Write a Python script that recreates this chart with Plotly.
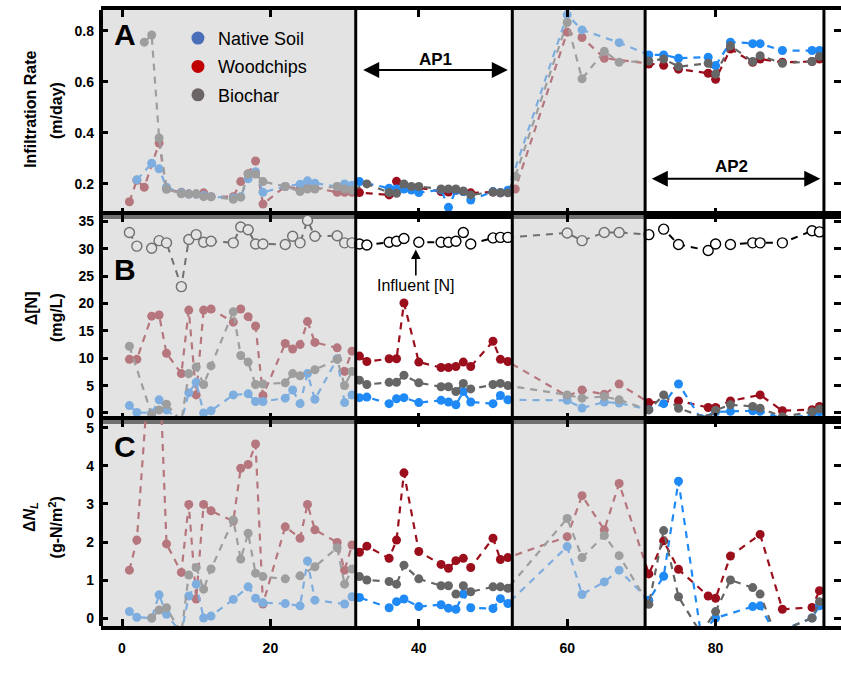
import plotly.graph_objects as go

# ---------------- data ----------------
# Panel A: infiltration rate (m/day)
a_native_day = [2, 4, 5, 6, 8, 9, 10, 11, 12, 15, 16, 17, 18, 19, 22, 24, 25, 26, 29, 30, 31,
                32, 36, 37, 38, 39, 40, 43, 44, 45, 46, 47, 50, 51, 52,
                60, 62, 67, 71, 73, 75, 79, 80, 82, 85, 86, 89, 93, 94]
a_native_val = [0.216, 0.281, 0.259, 0.187, 0.165, 0.16, 0.16, 0.155, 0.15, 0.145, 0.15, 0.22, 0.248, 0.167,
                0.19, 0.199, 0.212, 0.203, 0.19, 0.2, 0.195,
                0.209, 0.183, 0.18, 0.18, 0.176, 0.166, 0.177, 0.108, 0.175, 0.17, 0.137, 0.17, 0.165, 0.175,
                0.863, 0.804, 0.754, 0.706, 0.706, 0.693, 0.697, 0.664, 0.756, 0.75, 0.75, 0.723, 0.723, 0.723]

a_wood_day = [1, 2, 3, 5, 6, 8, 9, 10, 11, 12, 15, 16, 17, 18, 19, 22, 24, 25, 26, 29, 30, 31,
              32, 36, 37, 38, 40, 43, 44, 45, 46, 47, 50, 51, 52,
              53, 60, 62, 65, 71, 73, 75, 79, 80, 82, 85, 86, 89, 93, 94]
a_wood_val = [0.13, 0.214, 0.187, 0.36, 0.18, 0.167, 0.16, 0.16, 0.165, 0.15, 0.15, 0.209, 0.24, 0.29, 0.121,
              0.19, 0.18, 0.185, 0.185, 0.167, 0.167, 0.167,
              0.166, 0.157, 0.21, 0.187, 0.185, 0.17, 0.168, 0.175, 0.17, 0.165, 0.168, 0.165, 0.17,
              0.18, 0.795, 0.774, 0.693, 0.67, 0.665, 0.65, 0.634, 0.61, 0.729, 0.677, 0.69, 0.677, 0.68, 0.69]

a_char_day = [3, 4, 5, 6, 8, 9, 10, 11, 12, 15, 16, 17, 18, 19, 22, 24, 25, 26, 29, 30, 31,
              33, 36, 37, 38, 39, 40, 43, 44, 45, 46, 47, 50, 51, 52,
              53, 60, 62, 65, 67, 71, 73, 75, 79, 80, 82, 85, 86, 89, 93, 94]
a_char_val = [0.756, 0.784, 0.38, 0.18, 0.161, 0.161, 0.161, 0.15, 0.15, 0.14, 0.148, 0.239, 0.239, 0.209,
              0.19, 0.17, 0.18, 0.18, 0.19, 0.18, 0.175,
              0.2, 0.166, 0.163, 0.2, 0.19, 0.19, 0.18, 0.18, 0.18, 0.172, 0.157, 0.168, 0.165, 0.165,
              0.23, 0.833, 0.612, 0.72, 0.677, 0.682, 0.69, 0.66, 0.673, 0.631, 0.742, 0.68, 0.703, 0.673, 0.68, 0.70]

# Panel B: change in N concentration (mg/L) and influent concentration
b_infl_day = [1, 2, 4, 5, 6, 8, 9, 10, 11, 12, 15, 16, 17, 18, 19, 22, 23, 24, 25, 26, 29, 30, 31,
              32, 33, 36, 37, 38, 40, 43, 44, 45, 46, 47, 50, 51, 52,
              60, 62, 65, 67, 71, 73, 75, 79, 80, 82, 85, 86, 89, 93, 94]
b_infl_val = [33.0, 30.5, 30.1, 31.5, 31.1, 23.1, 31.7, 32.6, 31.2, 31.4, 31.1, 34.0, 33.5, 30.9, 30.9,
              30.8, 32.3, 31.1, 35.2, 32.3, 32.4, 31.1, 31.1,
              30.9, 30.7, 31.2, 31.4, 31.9, 31.2, 31.2, 31.2, 31.4, 33.0, 30.9, 32.0, 32.1, 32.1,
              32.9, 31.5, 33.0, 33.0, 32.6, 33.6, 30.8, 29.7, 30.9, 30.8, 31.1, 31.1, 31.1, 33.3, 33.1]

b_wood_day = [1, 2, 4, 5, 6, 8, 9, 10, 11, 12, 15, 16, 17, 18, 19, 22, 23, 24, 25, 26, 29, 30, 31,
              32, 33, 36, 37, 38, 40, 43, 44, 45, 46, 47, 50, 51, 52,
              60, 62, 65, 67, 71, 75, 79, 80, 82, 86, 89, 93, 94]
b_wood_val = [9.8, 9.8, 17.7, 17.9, 10.9, 7.2, 18.8, 3.3, 18.8, 19.0, 16.6, 19.0, 17.6, 15.9, 3.2,
              12.7, 11.7, 12.5, 16.7, 12.9, 11.9, 7.6, 11.3,
              10.4, 9.4, 9.9, 9.9, 20.1, 9.3, 8.3, 8.3, 8.5, 9.3, 8.5, 13.1, 9.8, 9.4,
              3.1, 4.2, 3.4, 5.3, 1.9, 2.2, 1.0, 1.0, 2.2, 3.3, 0.4, 0.6, 1.2]

b_char_day = [1, 4, 5, 6, 8, 9, 10, 11, 12, 15, 16, 17, 18, 19, 22, 23, 24, 26, 29, 30, 31,
              32, 33, 36, 37, 38, 40, 43, 44, 45, 46, 47, 50, 51, 52,
              60, 62, 65, 67, 71, 73, 75, 79, 80, 82, 85, 86, 89, 93, 94]
b_char_val = [12.2, -0.3, 0.55, 1.6, -1.5, 7.2, 8.4, 5.2, 8.6, 18.5, 10.5, 9.3, 5.2, 5.3,
              5.5, 7.2, 6.8, 7.9, 9.8, 5.0, 7.6,
              6.0, 5.2, 5.6, 5.6, 6.9, 5.5, 4.8, 4.8, 3.9, 5.4, 4.4, 5.2, 5.4, 5.0,
              3.3, 2.7, 3.0, 2.4, 0.55, 3.3, 0.86, -1.0, 0.5, 1.5, 1.2, 0.86, -0.7, 0.2, 0.7]

b_native_day = [1, 2, 4, 5, 6, 8, 9, 10, 11, 12, 15, 17, 18, 19, 22, 23, 24, 25, 26, 29, 30, 31,
                32, 33, 36, 37, 38, 40, 43, 44, 45, 46, 47, 50, 51, 52,
                60, 62, 65, 67, 71, 73, 75, 78, 80, 82, 85, 86, 89, 93, 94]
b_native_val = [1.35, 0.1, 0.0, 2.4, 0.55, -1.5, 3.7, 5.6, 0.0, 0.4, 3.3, 3.5, 2.1, 2.1,
                2.7, 4.2, 1.7, 7.2, 2.5, 9.9, 1.9, 3.3,
                2.8, 2.9, 1.7, 2.6, 2.8, 1.9, 2.3, 2.0, 1.5, 3.9, 2.0, 1.7, 3.2, 2.4,
                2.3, 0.9, 2.0, 1.8, 0.6, 1.7, 5.3, -1.0, 0.2, 0.3, 0.4, 0.3, -1.0, -0.4, 0.2]

# Panel C: N load removed (g-N/m2)
c_wood_day = [1, 2, 4, 5, 6, 8, 9, 10, 11, 12, 15, 16, 17, 18, 19, 22, 24, 25, 26, 29, 30, 31,
              32, 33, 36, 37, 38, 40, 43, 44, 45, 46, 47, 50, 51, 52,
              60, 62, 65, 67, 71, 73, 75, 79, 80, 82, 86, 89, 93, 94]
c_wood_val = [1.26, 2.05, 7.5, 7.0, 1.95, 1.2, 2.99, 0.5, 2.99, 2.82, 2.55, 3.94, 4.04, 4.58, 0.37,
              2.4, 2.1, 2.99, 2.32, 1.99, 1.26, 1.92,
              1.73, 1.89, 1.57, 2.05, 3.82, 1.75, 1.41, 1.31, 1.51, 1.57, 1.33, 2.1, 1.54, 1.59,
              2.14, 3.22, 2.32, 3.54, 1.16, 2.03, 1.28, 0.58, 0.52, 1.63, 2.2, 0.23, 0.28, 0.72]

c_char_day = [4, 5, 6, 8, 9, 10, 11, 12, 15, 16, 17, 18, 19, 22, 24, 26, 29, 30, 31,
              32, 33, 36, 37, 38, 40, 43, 44, 45, 46, 47, 50, 51, 52,
              60, 62, 65, 67, 71, 73, 75, 78, 80, 82, 85, 86, 88, 93, 94]
c_char_val = [0.0, 0.21, 0.27, -0.4, 1.13, 1.33, 0.76, 1.29, 2.58, 1.55, 2.23, 1.18, 1.09,
              1.03, 1.11, 1.35, 1.85, 0.89, 1.29,
              1.09, 1.0, 0.96, 0.89, 1.39, 1.03, 0.85, 0.85, 0.63, 0.85, 0.69, 0.82, 0.82, 0.78,
              2.62, 1.59, 2.17, 1.64, 0.36, 2.3, 0.56, -0.4, 0.17, 1.0, 0.8, 0.63, -0.4, 0.0, 0.43]

c_native_day = [1, 2, 4, 5, 6, 8, 9, 10, 11, 12, 15, 17, 18, 19, 22, 24, 25, 26, 30, 31,
                32, 36, 37, 38, 40, 43, 44, 45, 46, 47, 50, 51, 52,
                60, 62, 65, 67, 71, 73, 75, 78, 80, 85, 86, 88, 93, 94]
c_native_val = [0.17, 0.02, 0.0, 0.61, 0.1, -0.4, 0.58, 0.89, 0.0, 0.05, 0.49, 0.82, 0.52, 0.4,
                0.38, 0.32, 1.5, 0.47, 0.37, 0.56,
                0.54, 0.27, 0.43, 0.5, 0.3, 0.35, 0.26, 0.23, 0.63, 0.27, 0.25, 0.51, 0.38,
                1.88, 0.62, 0.95, 1.26, 0.47, 1.1, 3.6, -0.4, 0.0, 0.3, 0.32, -0.4, 0.0, 0.32]

# period layout (days)
period_edges = [31.5, 52.6, 70.5, 94.6]
rest_periods = [(-10, 31.5), (52.6, 70.5)]

legend_names = ["Native Soil", "Woodchips", "Biochar"]
legend_colors = ["#4a6fb8", "#c00000", "#6b6565"]

COL_NATIVE = "#1f8af5"
COL_WOOD = "#9b0f1d"
COL_CHAR = "#666666"
SHADE = "rgba(204,204,204,0.55)"
FONT = "Liberation Sans, Arial, sans-serif"

XR = [-2.83, 96.9]
YR = {"y": [0.080, 0.882], "y2": [-1.29, 36.28], "y3": [-0.21, 5.21]}

fig = go.Figure()


def series(days, vals, color, xa, ya):
    fig.add_trace(go.Scatter(
        x=days, y=vals, mode="lines+markers", xaxis=xa, yaxis=ya,
        line=dict(color=color, width=2.2, dash="7px,6px"),
        marker=dict(color=color, size=9),
        showlegend=False, hoverinfo="skip"))


series(a_wood_day, a_wood_val, COL_WOOD, "x", "y")
series(a_native_day, a_native_val, COL_NATIVE, "x", "y")
series(a_char_day, a_char_val, COL_CHAR, "x", "y")

fig.add_trace(go.Scatter(
    x=b_infl_day, y=b_infl_val, mode="lines+markers", xaxis="x2", yaxis="y2",
    line=dict(color="black", width=2, dash="7px,6px"),
    marker=dict(symbol="circle", color="white", size=10, line=dict(color="black", width=1.4)),
    showlegend=False, hoverinfo="skip"))
series(b_wood_day, b_wood_val, COL_WOOD, "x2", "y2")
series(b_native_day, b_native_val, COL_NATIVE, "x2", "y2")
series(b_char_day, b_char_val, COL_CHAR, "x2", "y2")

series(c_wood_day, c_wood_val, COL_WOOD, "x3", "y3")
series(c_native_day, c_native_val, COL_NATIVE, "x3", "y3")
series(c_char_day, c_char_val, COL_CHAR, "x3", "y3")

# translucent wash over the rest periods (drawn under the axes)
for xa, ya in [("x", "y"), ("x2", "y2"), ("x3", "y3")]:
    for x0, x1 in rest_periods:
        lo, hi = -100, 100
        fig.add_trace(go.Scatter(
            x=[x0, x1, x1, x0, x0], y=[lo, lo, hi, hi, lo], mode="lines",
            fill="toself", fillcolor=SHADE, line=dict(width=0),
            xaxis=xa, yaxis=ya, showlegend=False, hoverinfo="skip"))

# legend entries
for name, col in zip(legend_names, legend_colors):
    fig.add_trace(go.Scatter(
        x=[None], y=[None], mode="markers", name=name, legendgroup=name,
        marker=dict(color=col, size=13), xaxis="x", yaxis="y"))

tick_common = dict(ticks="inside", ticklen=7, tickwidth=3, tickcolor="black",
                   tickfont=dict(family=FONT, size=14, color="black", weight="bold"))

xcommon = dict(range=XR, tickvals=[0, 20, 40, 60, 80], showline=True, linewidth=4,
               linecolor="black", mirror="ticks", showgrid=False, zeroline=False, **tick_common)

fig.update_layout(
    width=841, height=696,
    margin=dict(l=101, r=0, t=10, b=70),
    plot_bgcolor="white", paper_bgcolor="white",
    xaxis=dict(domain=[0, 1], anchor="y", showticklabels=False, **xcommon),
    xaxis2=dict(domain=[0, 1], anchor="y2", showticklabels=False, matches="x", **xcommon),
    xaxis3=dict(domain=[0, 1], anchor="y3", showticklabels=True, matches="x",
                ticklabelstandoff=6, **xcommon),
    yaxis=dict(domain=[0.668, 1], range=YR["y"], tickvals=[0.2, 0.4, 0.6, 0.8],
               ticktext=["0.2", "0.4", "0.6", "0.8"], anchor="x", showline=False,
               mirror="ticks", showgrid=False, zeroline=False, ticklabelstandoff=6, **tick_common),
    yaxis2=dict(domain=[0.3344, 0.668], range=YR["y2"], tickvals=[0, 5, 10, 15, 20, 25, 30, 35],
                anchor="x2", showline=False, mirror="ticks", showgrid=False, zeroline=False,
                ticklabelstandoff=6, **tick_common),
    yaxis3=dict(domain=[0, 0.3344], range=YR["y3"], tickvals=[0, 1, 2, 3, 4, 5],
                anchor="x3", showline=False, mirror="ticks", showgrid=False, zeroline=False,
                ticklabelstandoff=6, **tick_common),
    legend=dict(x=0.104, y=0.984, xanchor="left", yanchor="top", bgcolor="rgba(0,0,0,0)",
                font=dict(family=FONT, size=18, color="black"), tracegroupgap=2,
                itemclick=False),
    showlegend=True,
)

# frame and period boundaries
shapes = [dict(type="line", xref="paper", yref="paper", x0=0, x1=0, y0=0, y1=1,
               line=dict(color="black", width=4))]
for xe in period_edges:
    shapes.append(dict(type="line", xref="x", yref="paper", x0=xe, x1=xe, y0=0, y1=1,
                       line=dict(color="black", width=3)))
fig.update_layout(shapes=shapes)

ann = []
# panel letters
for txt, xa, ya, yv in [("A", "x", "y", 0.784), ("B", "x2", "y2", 26.3), ("C", "x3", "y3", 4.5)]:
    ann.append(dict(text=txt, x=0.4, y=yv, xref=xa, yref=ya, showarrow=False,
                    font=dict(family=FONT, size=30, color="black", weight="bold")))

# period labels with double-headed arrows
ann.append(dict(text="AP1", x=42.3, y=0.688, xref="x", yref="y", showarrow=False,
                font=dict(family=FONT, size=17, color="black", weight="bold")))
ann.append(dict(text="", x=52.0, y=0.647, ax=32.3, ay=0.647, xref="x", yref="y",
                axref="x", ayref="y", showarrow=True, arrowhead=2, startarrowhead=2,
                arrowside="end+start", arrowsize=1.6, startarrowsize=1.6, arrowwidth=2,
                arrowcolor="black"))
ann.append(dict(text="AP2", x=82.2, y=0.268, xref="x", yref="y", showarrow=False,
                font=dict(family=FONT, size=17, color="black", weight="bold")))
ann.append(dict(text="", x=94.1, y=0.22, ax=71.2, ay=0.22, xref="x", yref="y",
                axref="x", ayref="y", showarrow=True, arrowhead=2, startarrowhead=2,
                arrowside="end+start", arrowsize=1.6, startarrowsize=1.6, arrowwidth=2,
                arrowcolor="black"))

# influent label, with its arrow drawn from the label up to the series
ann.append(dict(text="Influent [N]", x=39.6, y=29.9, ax=39.6, ay=23.3,
                xref="x2", yref="y2", axref="x2", ayref="y2", showarrow=True,
                arrowhead=2, arrowsize=1.2, arrowwidth=1.6, arrowcolor="black",
                font=dict(family=FONT, size=16, color="black")))

# y-axis titles
title_font = dict(family=FONT, size=16, color="black", weight="bold")
for line1, line2, yc1, yc2 in [
    ("Infiltration Rate", "(m/day)", 0.838, 0.836),
    ("\u0394[N]", "(mg/L)", 0.516, 0.500),
    ("\u0394<i>N</i><sub><i>L</i></sub>", "(g-N/m<sup>2</sup>)", 0.177, 0.160),
]:
    ann.append(dict(text=line1, x=-0.0945, y=yc1, xref="paper", yref="paper", showarrow=False,
                    textangle=-90, xanchor="center", yanchor="middle", font=title_font))
    ann.append(dict(text=line2, x=-0.0608, y=yc2, xref="paper", yref="paper", showarrow=False,
                    textangle=-90, xanchor="center", yanchor="middle", font=title_font))

fig.update_layout(annotations=ann)

fig.write_html("out.html")
